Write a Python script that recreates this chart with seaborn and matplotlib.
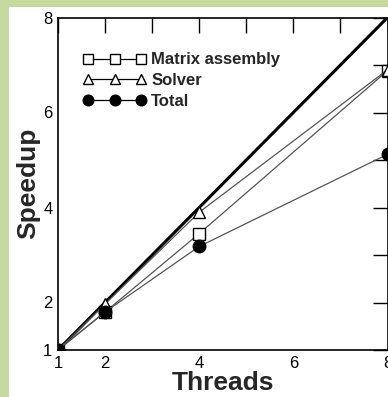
import matplotlib
matplotlib.use("Agg")
import matplotlib.pyplot as plt
import seaborn as sns
import pandas as pd
from matplotlib.patches import Rectangle
from matplotlib.ticker import MultipleLocator

threads = [1, 2, 4, 8]
matrix_assembly = [1.0, 1.8, 3.45, 6.88]
solver = [1.0, 1.97, 3.9, 6.9]
total = [1.0, 1.8, 3.18, 5.12]
ideal = [1, 8]

sns.set_theme(style="white")
plt.rcParams["font.family"] = ["Liberation Sans", "DejaVu Sans"]

W, H = 388, 397
fig = plt.figure(figsize=(W / 100, H / 100), dpi=100, facecolor="white")

# pale green frame along the top and left edges
fig.patches.append(Rectangle((0, 0), 9 / W, 1, transform=fig.transFigure,
                             facecolor="#c5d89d", edgecolor="none", zorder=0))
fig.patches.append(Rectangle((0, 1 - 7 / H), 1, 7 / H, transform=fig.transFigure,
                             facecolor="#c5d89d", edgecolor="none", zorder=0))

left, right = 58 / W, 387.5 / W
bottom, top = (H - 350) / H, (H - 17.5) / H
ax = fig.add_axes([left, bottom, right - left, top - bottom])
ax.set_facecolor("white")

df = pd.DataFrame({
    "Threads": threads * 3,
    "Speedup": matrix_assembly + solver + total,
    "Series": ["Matrix assembly"] * 4 + ["Solver"] * 4 + ["Total"] * 4,
})

# ideal scaling
ax.plot(ideal, ideal, color="black", lw=2.2, zorder=2)

styles = {
    "Matrix assembly": dict(marker="s", mfc="white", ms=8.5, z=3),
    "Solver": dict(marker="^", mfc="white", ms=8, z=3),
    "Total": dict(marker="o", mfc="black", ms=9, z=4),
}
handles = {}
for name in ["Matrix assembly", "Solver", "Total"]:
    st = styles[name]
    sub = df[df["Series"] == name]
    sns.lineplot(data=sub, x="Threads", y="Speedup", ax=ax, color="#555555",
                 lw=0.9, marker=st["marker"],
                 markerfacecolor=st["mfc"], markeredgecolor="black",
                 markeredgewidth=1.0, markersize=st["ms"],
                 legend=False, zorder=st["z"])
    handles[name] = plt.Line2D([], [], color="black", lw=0.9,
                               marker=st["marker"],
                               markerfacecolor=st["mfc"],
                               markeredgecolor="black", markeredgewidth=1.0,
                               markersize=st["ms"] * 0.85)

ax.set_xlim(1, 8)
ax.set_ylim(1, 8)
ax.xaxis.set_minor_locator(MultipleLocator(1))
ax.yaxis.set_minor_locator(MultipleLocator(1))
ax.set_xticks([1, 2, 4, 6, 8])
ax.set_yticks([1, 2, 4, 6, 8])
ax.tick_params(which="both", direction="in", length=11, width=1, color="black",
               top=True, right=True, labelsize=12, pad=4, labelcolor="black")
for s in ax.spines.values():
    s.set_color("black")
    s.set_linewidth(1.2)

ax.set_xlabel("Threads", fontsize=19, fontweight="bold", labelpad=0)
ax.set_ylabel("Speedup", fontsize=19, fontweight="bold", labelpad=2)

order = ["Matrix assembly", "Solver", "Total"]
leg = ax.legend([handles[n] for n in order], order, loc="upper left",
                bbox_to_anchor=(0.03, 0.94), frameon=False, numpoints=3,
                handlelength=3.8, handletextpad=0.3, labelspacing=0.35,
                prop={"weight": "bold", "size": 12})

fig.savefig("out.png", dpi=100, facecolor="white")
